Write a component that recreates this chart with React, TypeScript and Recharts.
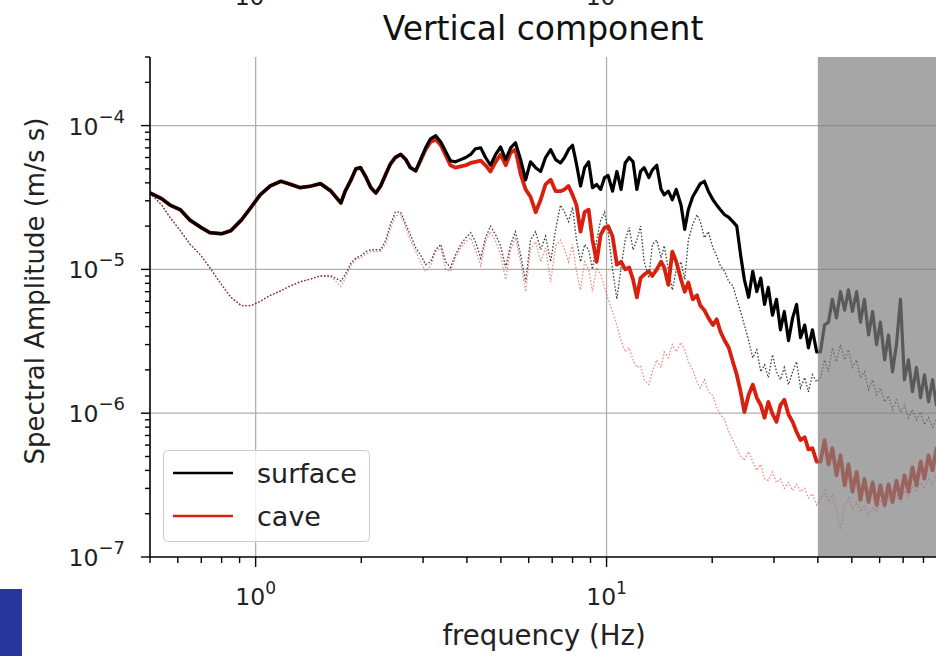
import React from "react";
import { LineChart, Line, XAxis, YAxis, ReferenceArea, ReferenceLine } from "recharts";

// Frequency samples (Hz), log-spaced across the band
const freqHz = [
  0.5, 0.54, 0.57, 0.61, 0.65, 0.7, 0.74, 0.8, 0.85, 0.91,
  0.97, 1.03, 1.1, 1.18, 1.26, 1.34, 1.44, 1.53, 1.64, 1.75,
  1.8, 1.87, 1.93, 1.99, 2.06, 2.13, 2.2, 2.27, 2.35, 2.42,
  2.5, 2.59, 2.68, 2.76, 2.86, 2.95, 3.05, 3.15, 3.26, 3.37,
  3.48, 3.59, 3.71, 3.84, 3.97, 4.1, 4.23, 4.38, 4.52, 4.67,
  4.83, 4.99, 5.16, 5.33, 5.5, 5.69, 5.88, 6.07, 6.28, 6.49,
  6.7, 6.93, 7.16, 7.39, 7.59, 7.79, 8.0, 8.21, 8.43, 8.66,
  8.89, 9.12, 9.37, 9.62, 9.87, 10.1, 10.4, 10.7, 11.0, 11.3,
  11.6, 11.9, 12.2, 12.5, 12.8, 13.2, 13.5, 13.9, 14.3, 14.6,
  15.0, 15.4, 15.8, 16.3, 16.7, 17.1, 17.6, 18.1, 18.5, 19.0,
  19.5, 20.1, 20.6, 21.1, 21.7, 22.3, 22.9, 23.5, 24.1, 24.7,
  25.4, 26.1, 26.8, 27.5, 28.2, 28.9, 29.7, 30.5, 31.3, 32.1,
  33.0, 33.9, 34.8, 35.7, 36.7, 37.6, 38.6, 39.7, 40.7, 41.8,
  42.9, 44.0, 45.2, 46.4, 47.7, 48.9, 50.2, 51.6, 52.9, 54.3,
  55.8, 57.3, 58.8, 60.3, 62.0, 63.6, 65.3, 67.0, 68.8, 70.6,
  72.5, 74.4, 76.4, 78.5, 80.5, 82.7, 84.9, 87.1, 89.5,
];

// Event spectrum, surface station (m/s s)
const surfaceAmp = [
  3.4e-5, 3.1e-5, 2.8e-5, 2.6e-5, 2.2e-5, 1.95e-5, 1.8e-5, 1.77e-5, 1.86e-5, 2.2e-5,
  2.7e-5, 3.3e-5, 3.8e-5, 4.1e-5, 3.9e-5, 3.7e-5, 3.8e-5, 3.95e-5, 3.5e-5, 2.9e-5,
  3.5e-5, 4.2e-5, 5.0e-5, 5.1e-5, 4.4e-5, 3.7e-5, 3.4e-5, 3.8e-5, 4.6e-5, 5.4e-5,
  6.0e-5, 6.3e-5, 5.8e-5, 5.1e-5, 4.85e-5, 5.8e-5, 7.0e-5, 8.1e-5, 8.5e-5, 7.7e-5,
  6.6e-5, 5.7e-5, 5.6e-5, 5.8e-5, 6.0e-5, 6.3e-5, 6.9e-5, 7.0e-5, 6.0e-5, 5.3e-5,
  6.3e-5, 7.1e-5, 5.8e-5, 7.0e-5, 7.6e-5, 5.8e-5, 4.2e-5, 5.6e-5, 5.1e-5, 4.8e-5,
  6.0e-5, 6.8e-5, 5.8e-5, 5.5e-5, 6.0e-5, 6.8e-5, 7.3e-5, 5.4e-5, 3.8e-5, 5.1e-5,
  5.6e-5, 3.7e-5, 3.9e-5, 3.6e-5, 4.35e-5, 4.5e-5, 3.5e-5, 4.8e-5, 3.6e-5, 5.5e-5,
  6.0e-5, 5.6e-5, 3.6e-5, 4.8e-5, 5.1e-5, 4.35e-5, 4.9e-5, 5.3e-5, 3.6e-5, 3.3e-5,
  3.5e-5, 3.05e-5, 3.6e-5, 2.8e-5, 1.9e-5, 2.6e-5, 3.2e-5, 3.6e-5, 3.95e-5, 4.1e-5,
  3.5e-5, 3.05e-5, 2.8e-5, 2.6e-5, 2.4e-5, 2.3e-5, 2.15e-5, 2.0e-5, 1.26e-5, 8.5e-6,
  6.4e-6, 9.7e-6, 7.0e-6, 8.7e-6, 5.7e-6, 7.5e-6, 4.8e-6, 6.2e-6, 3.8e-6, 5.1e-6,
  3.2e-6, 4.6e-6, 5.7e-6, 3.35e-6, 4.1e-6, 2.85e-6, 3.8e-6, 2.67e-6, 2.67e-6, 4.1e-6,
  4.3e-6, 6.2e-6, 4.6e-6, 7.0e-6, 5.2e-6, 7.2e-6, 5.1e-6, 7.0e-6, 4.3e-6, 6.2e-6,
  3.5e-6, 5.1e-6, 3.0e-6, 4.3e-6, 2.35e-6, 3.5e-6, 1.94e-6, 3.0e-6, 6.2e-6, 1.71e-6,
  2.35e-6, 1.41e-6, 2.08e-6, 1.28e-6, 1.85e-6, 1.2e-6, 1.71e-6, 1.14e-6, 1.58e-6,
];

// Event spectrum, cave station (m/s s)
const caveAmp = [
  3.4e-5, 3.1e-5, 2.8e-5, 2.6e-5, 2.2e-5, 1.95e-5, 1.8e-5, 1.77e-5, 1.86e-5, 2.2e-5,
  2.7e-5, 3.3e-5, 3.8e-5, 4.1e-5, 3.9e-5, 3.7e-5, 3.8e-5, 3.95e-5, 3.5e-5, 2.9e-5,
  3.5e-5, 4.2e-5, 5.0e-5, 5.1e-5, 4.4e-5, 3.7e-5, 3.4e-5, 3.8e-5, 4.6e-5, 5.4e-5,
  6.0e-5, 6.3e-5, 5.8e-5, 5.1e-5, 4.85e-5, 5.7e-5, 6.8e-5, 7.7e-5, 8.0e-5, 7.3e-5,
  6.2e-5, 5.3e-5, 5.1e-5, 5.2e-5, 5.3e-5, 5.5e-5, 5.6e-5, 5.7e-5, 5.3e-5, 4.8e-5,
  5.6e-5, 6.3e-5, 5.3e-5, 6.5e-5, 6.8e-5, 4.6e-5, 3.6e-5, 3.2e-5, 2.5e-5, 3.05e-5,
  3.9e-5, 4.2e-5, 3.5e-5, 3.5e-5, 3.6e-5, 3.8e-5, 3.3e-5, 2.8e-5, 1.83e-5, 2.5e-5,
  2.6e-5, 1.6e-5, 1.13e-5, 1.74e-5, 1.95e-5, 2.0e-5, 1.7e-5, 1.08e-5, 1.13e-5, 1.0e-5,
  1.03e-5, 8.5e-6, 6.4e-6, 8.7e-6, 9.2e-6, 9.7e-6, 9.0e-6, 1.0e-5, 1.13e-5, 1.03e-5,
  7.8e-6, 1.33e-5, 1.13e-5, 8.5e-6, 7.0e-6, 8.1e-6, 6.2e-6, 6.6e-6, 5.6e-6, 5.2e-6,
  4.6e-6, 4.1e-6, 4.5e-6, 3.7e-6, 3.2e-6, 2.85e-6, 2.28e-6, 1.85e-6, 1.41e-6, 1.02e-6,
  1.34e-6, 1.58e-6, 1.28e-6, 1.14e-6, 9.3e-7, 1.2e-6, 9.9e-7, 8.7e-7, 1.14e-6, 1.24e-6,
  9.8e-7, 8.7e-7, 7.4e-7, 6.5e-7, 6.8e-7, 5.6e-7, 5.7e-7, 4.6e-7, 4.6e-7, 6.5e-7,
  4.4e-7, 5.7e-7, 3.7e-7, 5.1e-7, 3.15e-7, 4.4e-7, 2.85e-7, 3.9e-7, 2.5e-7, 3.5e-7,
  2.42e-7, 3.3e-7, 2.3e-7, 3.15e-7, 2.3e-7, 3.2e-7, 2.42e-7, 3.4e-7, 2.57e-7, 3.7e-7,
  2.85e-7, 4.2e-7, 3.15e-7, 4.6e-7, 3.5e-7, 5.1e-7, 4.0e-7, 5.7e-7, 4.6e-7,
];

// Pre-event noise window, surface station
const surfaceNoiseAmp = [
  3.4e-5, 2.8e-5, 2.3e-5, 1.86e-5, 1.5e-5, 1.24e-5, 1.03e-5, 7.8e-6, 6.4e-6, 5.6e-6,
  5.6e-6, 6.0e-6, 6.6e-6, 7.1e-6, 7.7e-6, 8.2e-6, 8.6e-6, 9.0e-6, 9.0e-6, 8.3e-6,
  9.2e-6, 1.11e-5, 1.2e-5, 1.24e-5, 1.33e-5, 1.37e-5, 1.37e-5, 1.37e-5, 1.6e-5, 2.05e-5,
  2.5e-5, 2.5e-5, 2.05e-5, 1.74e-5, 1.41e-5, 1.26e-5, 1.08e-5, 1.13e-5, 1.37e-5, 1.49e-5,
  1.13e-5, 1.03e-5, 1.26e-5, 1.49e-5, 1.66e-5, 1.8e-5, 1.56e-5, 1.2e-5, 1.66e-5, 2.0e-5,
  1.74e-5, 1.46e-5, 1.03e-5, 1.49e-5, 1.83e-5, 1.26e-5, 8.2e-6, 1.6e-5, 1.83e-5, 1.37e-5,
  1.7e-5, 1.13e-5, 1.9e-5, 2.8e-5, 2.5e-5, 2.15e-5, 2.7e-5, 1.6e-5, 1.13e-5, 1.49e-5,
  1.37e-5, 1.0e-5, 1.6e-5, 2.2e-5, 2.5e-5, 1.83e-5, 1.0e-5, 6.2e-6, 1.03e-5, 1.6e-5,
  1.95e-5, 1.37e-5, 1.6e-5, 2.0e-5, 1.13e-5, 8.7e-6, 1.49e-5, 1.6e-5, 1.2e-5, 1.46e-5,
  1.0e-5, 7.2e-6, 1.0e-5, 1.13e-5, 8.5e-6, 1.6e-5, 2.05e-5, 2.4e-5, 2.15e-5, 1.66e-5,
  1.83e-5, 1.41e-5, 1.24e-5, 1.06e-5, 9.7e-6, 8.2e-6, 7.7e-6, 6.2e-6, 5.1e-6, 4.1e-6,
  3.2e-6, 2.43e-6, 2.76e-6, 1.94e-6, 2.17e-6, 1.77e-6, 2.55e-6, 1.94e-6, 1.71e-6, 2.08e-6,
  1.58e-6, 1.94e-6, 2.28e-6, 1.5e-6, 1.77e-6, 1.41e-6, 1.85e-6, 1.65e-6, 1.77e-6, 2.35e-6,
  1.94e-6, 2.85e-6, 2.28e-6, 3.0e-6, 2.35e-6, 2.76e-6, 2.08e-6, 2.35e-6, 1.77e-6, 1.94e-6,
  1.46e-6, 1.71e-6, 1.34e-6, 1.5e-6, 1.2e-6, 1.32e-6, 1.06e-6, 1.24e-6, 1.02e-6, 1.14e-6,
  9.3e-7, 1.06e-6, 9.0e-7, 1.02e-6, 8.3e-7, 9.3e-7, 8.0e-7, 9.0e-7, 8.3e-7,
];

// Pre-event noise window, cave station
const caveNoiseAmp = [
  3.4e-5, 2.8e-5, 2.3e-5, 1.86e-5, 1.5e-5, 1.24e-5, 1.03e-5, 7.8e-6, 6.4e-6, 5.6e-6,
  5.6e-6, 6.0e-6, 6.6e-6, 7.1e-6, 7.7e-6, 8.2e-6, 8.6e-6, 9.0e-6, 8.9e-6, 7.6e-6,
  8.7e-6, 1.06e-5, 1.17e-5, 1.2e-5, 1.28e-5, 1.33e-5, 1.33e-5, 1.33e-5, 1.5e-5, 1.9e-5,
  2.36e-5, 2.4e-5, 1.95e-5, 1.6e-5, 1.33e-5, 1.13e-5, 9.7e-6, 1.06e-5, 1.33e-5, 1.41e-5,
  1.0e-5, 9.7e-6, 1.2e-5, 1.41e-5, 1.56e-5, 1.66e-5, 1.37e-5, 1.06e-5, 1.56e-5, 1.83e-5,
  1.56e-5, 1.26e-5, 8.5e-6, 1.37e-5, 1.66e-5, 1.13e-5, 7.0e-6, 1.37e-5, 1.56e-5, 1.13e-5,
  1.41e-5, 8.2e-6, 1.46e-5, 1.6e-5, 1.37e-5, 1.13e-5, 1.49e-5, 9.7e-6, 7.2e-6, 1.13e-5,
  1.0e-5, 7.0e-6, 1.03e-5, 9.2e-6, 7.5e-6, 6.2e-6, 5.1e-6, 4.1e-6, 3.2e-6, 2.67e-6,
  2.85e-6, 2.35e-6, 2.08e-6, 2.14e-6, 1.71e-6, 1.58e-6, 1.94e-6, 2.35e-6, 2.08e-6, 2.67e-6,
  2.43e-6, 3.0e-6, 2.67e-6, 3.1e-6, 2.76e-6, 2.28e-6, 2.0e-6, 1.65e-6, 1.5e-6, 1.71e-6,
  1.41e-6, 1.32e-6, 1.09e-6, 9.8e-7, 9.0e-7, 7.4e-7, 6.5e-7, 5.7e-7, 5.0e-7, 4.7e-7,
  5.4e-7, 4.6e-7, 4.0e-7, 4.4e-7, 3.5e-7, 3.4e-7, 3.9e-7, 3.3e-7, 3.5e-7, 3.0e-7,
  3.3e-7, 2.9e-7, 3.2e-7, 2.85e-7, 3.0e-7, 2.57e-7, 2.75e-7, 2.3e-7, 2.57e-7, 2.9e-7,
  2.42e-7, 2.7e-7, 2.13e-7, 1.55e-7, 2.3e-7, 2.57e-7, 2.13e-7, 2.42e-7, 2.07e-7, 2.3e-7,
  1.96e-7, 2.2e-7, 2.07e-7, 2.5e-7, 2.2e-7, 2.57e-7, 2.3e-7, 2.7e-7, 2.42e-7, 2.9e-7,
  2.57e-7, 3.1e-7, 2.85e-7, 3.3e-7, 3.0e-7, 3.5e-7, 3.2e-7, 3.8e-7, 3.4e-7,
];

const xTicks = [0.5, 0.6, 0.7, 0.8, 0.9, 1, 2, 3, 4, 5, 6, 7, 8, 9, 10, 20, 30, 40, 50, 60, 70, 80];
const yTicks = [
  1e-7, 2e-7, 3e-7, 4e-7, 5e-7, 6e-7, 7e-7, 8e-7, 9e-7,
  1e-6, 2e-6, 3e-6, 4e-6, 5e-6, 6e-6, 7e-6, 8e-6, 9e-6,
  1e-5, 2e-5, 3e-5, 4e-5, 5e-5, 6e-5, 7e-5, 8e-5, 9e-5,
  1e-4, 2e-4, 3e-4,
];
const xGrid = [1, 10];
const yGrid = [1e-6, 1e-5, 1e-4];
const freqRange = [0.5, 88];
const ampRange = [1e-7, 3e-4];
// band above 40 Hz is greyed out
const maskBand = [40, 88];

const FONT = '"DejaVu Sans", sans-serif';
const RED = "#d8200f";

const rows = freqHz.map((f, i) => ({
  f,
  surface: surfaceAmp[i],
  cave: caveAmp[i],
  surfaceNoise: surfaceNoiseAmp[i],
  caveNoise: caveNoiseAmp[i],
}));

const isDecade = (v: number) => Math.abs(Math.log10(v) - Math.round(Math.log10(v))) < 1e-6;
const expOf = (v: number) => {
  const e = Math.round(Math.log10(v));
  return e < 0 ? `\u2212${-e}` : `${e}`;
};

function FreqTick({ x, y, payload }: any) {
  const v = payload.value;
  const major = isDecade(v);
  return (
    <g>
      <line x1={x} y1={y} x2={x} y2={y + (major ? 10 : 6)} stroke="#000" strokeWidth={1.4} />
      {major && (
        <text x={x} y={y + 48} textAnchor="middle" fontSize={23.5} fill="#222" fontFamily={FONT}>
          10<tspan dy={-11} fontSize={17}>{expOf(v)}</tspan>
        </text>
      )}
    </g>
  );
}

function AmpTick({ x, y, payload }: any) {
  const v = payload.value;
  const major = isDecade(v);
  return (
    <g>
      <line x1={x} y1={y} x2={x - (major ? 9 : 5)} y2={y} stroke="#000" strokeWidth={1.4} />
      {major && (
        <text x={x - 25} y={y + 9} textAnchor="end" fontSize={23.5} fill="#222" fontFamily={FONT}>
          10<tspan dy={-12} fontSize={18}>{expOf(v)}</tspan>
        </text>
      )}
    </g>
  );
}

export default function App() {
  return (
    <div
      style={{
        position: "fixed",
        left: 0,
        top: 0,
        width: 936,
        height: 656,
        overflow: "hidden",
        background: "#fff",
        fontFamily: FONT,
      }}
    >
      <LineChart width={940} height={656} data={rows} margin={{ top: 57, right: 2, bottom: 0, left: 0 }}>
        {xGrid.map((v) => (
          <ReferenceLine key={`gx${v}`} x={v} stroke="#b0b0b0" strokeWidth={1.3} zIndex={-50} />
        ))}
        {yGrid.map((v) => (
          <ReferenceLine key={`gy${v}`} y={v} stroke="#b0b0b0" strokeWidth={1.3} zIndex={-50} />
        ))}
        <Line
          dataKey="surfaceNoise"
          type="linear"
          stroke="#000"
          strokeOpacity={0.75}
          strokeWidth={1.3}
          strokeDasharray="1.6 1.8"
          dot={false}
          isAnimationActive={false}
        />
        <Line
          dataKey="caveNoise"
          type="linear"
          stroke={RED}
          strokeOpacity={0.5}
          strokeWidth={1.3}
          strokeDasharray="1.6 1.8"
          dot={false}
          isAnimationActive={false}
        />
        <Line
          dataKey="cave"
          type="linear"
          stroke={RED}
          strokeWidth={3.8}
          strokeLinejoin="round"
          dot={false}
          isAnimationActive={false}
        />
        <Line
          dataKey="surface"
          type="linear"
          stroke="#000"
          strokeWidth={3.2}
          strokeLinejoin="round"
          dot={false}
          isAnimationActive={false}
        />
        <ReferenceArea
          x1={maskBand[0]}
          x2={maskBand[1]}
          fill="#808080"
          fillOpacity={0.7}
          stroke="none"
          zIndex={450}
        />
        <XAxis
          dataKey="f"
          type="number"
          scale="log"
          domain={freqRange}
          allowDataOverflow
          ticks={xTicks}
          interval={0}
          tick={<FreqTick />}
          tickLine={false}
          tickSize={0}
          tickMargin={0}
          height={99}
          axisLine={{ stroke: "#000", strokeWidth: 1.6 }}
        />
        <XAxis
          xAxisId="top"
          orientation="top"
          type="number"
          scale="log"
          domain={freqRange}
          allowDataOverflow
          tick={false}
          tickLine={false}
          height={0}
          axisLine={{ stroke: "#000", strokeWidth: 1.6 }}
        />
        <YAxis
          type="number"
          scale="log"
          domain={ampRange}
          allowDataOverflow
          ticks={yTicks}
          interval={0}
          tick={<AmpTick />}
          tickLine={false}
          tickSize={0}
          tickMargin={0}
          width={150}
          axisLine={{ stroke: "#000", strokeWidth: 1.6 }}
        />
      </LineChart>

      <svg
        width={936}
        height={656}
        style={{ position: "absolute", left: 0, top: 0, pointerEvents: "none" }}
        fontFamily={FONT}
      >
        {/* tick labels of the panel above, cut off by the frame */}
        <text x={255} y={5} textAnchor="middle" fontSize={23.5} fill="#222">
          10<tspan dy={-11} fontSize={17}>0</tspan>
        </text>
        <text x={606} y={5} textAnchor="middle" fontSize={23.5} fill="#222">
          10<tspan dy={-11} fontSize={17}>1</tspan>
        </text>

        <text x={543} y={40} textAnchor="middle" fontSize={33} fill="#111">
          Vertical component
        </text>
        <text x={544} y={645} textAnchor="middle" fontSize={27.5} fill="#222">
          frequency (Hz)
        </text>
        <text
          transform="translate(35,291) rotate(-90)"
          textAnchor="middle"
          dominantBaseline="central"
          fontSize={26}
          fill="#222"
        >
          Spectral Amplitude (m/s s)
        </text>

        <g>
          <rect x={163.5} y={450.5} width={206} height={91} rx={4} fill="#fff" fillOpacity={0.8} stroke="#cccccc" />
          <line x1={173} x2={233} y1={473} y2={473} stroke="#000" strokeWidth={2.4} />
          <text x={257} y={483} fontSize={27} fill="#222">surface</text>
          <line x1={173} x2={233} y1={516} y2={516} stroke={RED} strokeWidth={2.4} />
          <text x={257} y={526} fontSize={27} fill="#222">cave</text>
        </g>

        <rect x={0} y={589} width={22} height={67} fill="#27369b" />
      </svg>
    </div>
  );
}
